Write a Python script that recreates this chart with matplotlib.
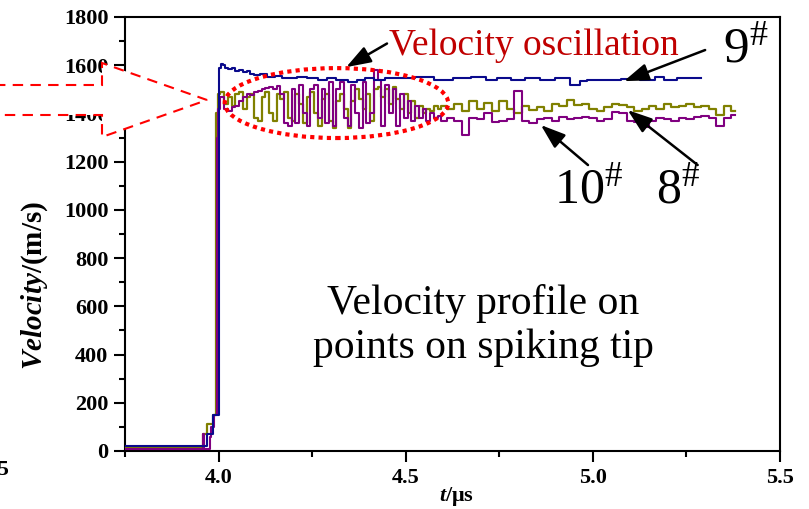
import matplotlib.pyplot as plt
import matplotlib.patches as mpatches
import numpy as np

plt.rcParams['font.family'] = 'Liberation Serif'
plt.rcParams['mathtext.fontset'] = 'custom'
plt.rcParams['mathtext.rm'] = 'Liberation Serif'
plt.rcParams['mathtext.it'] = 'Liberation Serif:italic:bold'

# ---- data ----
# point 9#
t9 = [3.75, 3.968, 3.972, 3.998, 4.003, 4.008, 4.015, 4.02, 4.03, 4.04, 4.05, 4.06,
      4.07, 4.08, 4.09, 4.10, 4.12, 4.14, 4.16, 4.18, 4.20, 4.22, 4.25, 4.28, 4.30,
      4.33, 4.36, 4.38, 4.40, 4.43, 4.46, 4.50, 4.55, 4.60, 4.65, 4.70, 4.73, 4.76,
      4.80, 4.84, 4.88, 4.92, 4.96, 4.97, 5.00, 5.05, 5.10, 5.15, 5.18, 5.20, 5.25, 5.29]
v9 = [22, 22, 70, 150, 1590, 1605, 1600, 1590, 1585, 1590, 1575, 1580,
      1570, 1575, 1565, 1560, 1565, 1552, 1555, 1548, 1545, 1550, 1545, 1540, 1545,
      1538, 1530, 1540, 1545, 1540, 1545, 1545, 1550, 1540, 1545, 1552, 1540, 1545,
      1538, 1545, 1540, 1545, 1520, 1535, 1540, 1538, 1542, 1540, 1550, 1540, 1545, 1545]

# rise parts of 8# and 10#
t8_rise = [3.75, 3.955, 3.96, 3.98, 3.99, 3.997]
v8_rise = [15, 15, 70, 110, 150, 1400]
t10_rise = [3.75, 3.958, 3.96, 3.964, 3.975, 3.977, 3.985, 3.993, 3.998]
v10_rise = [8, 8, 70, 8, 8, 60, 100, 150, 1300]

# oscillation window
t_osc = [4.00, 4.01, 4.02, 4.03, 4.04, 4.05, 4.06, 4.07, 4.08, 4.09,
         4.10, 4.11, 4.12, 4.13, 4.14, 4.15, 4.16, 4.17, 4.18, 4.19,
         4.20, 4.21, 4.22, 4.23, 4.24, 4.25, 4.26, 4.27, 4.28, 4.29,
         4.30, 4.31, 4.32, 4.33, 4.34, 4.35, 4.36, 4.37, 4.38, 4.39,
         4.40, 4.41, 4.42, 4.43, 4.44, 4.45, 4.46, 4.47, 4.48, 4.49,
         4.50, 4.51, 4.52, 4.53, 4.54, 4.55, 4.56, 4.57, 4.58, 4.59, 4.60]
v8_osc = [1480, 1490, 1440, 1470, 1430, 1480, 1490, 1420, 1470, 1480,
          1380, 1370, 1470, 1490, 1400, 1370, 1480, 1460, 1490, 1380,
          1370, 1480, 1440, 1360, 1470, 1490, 1400, 1350, 1460, 1480,
          1370, 1340, 1450, 1480, 1420, 1340, 1450, 1500, 1460, 1420,
          1480, 1370, 1500, 1510, 1470, 1500, 1440, 1510, 1460, 1420,
          1480, 1400, 1450, 1380, 1430, 1400, 1420, 1410, 1430, 1420, 1430]
v10_osc = [1420, 1470, 1420, 1410, 1425, 1430, 1450, 1470, 1480, 1475,
           1490, 1495, 1500, 1505, 1510, 1500, 1515, 1480, 1360, 1350,
           1500, 1360, 1520, 1400, 1350, 1500, 1520, 1380, 1500, 1360,
           1530, 1350, 1500, 1530, 1380, 1350, 1520, 1400, 1340, 1530,
           1360, 1400, 1580, 1540, 1350, 1520, 1400, 1500, 1350, 1480,
           1380, 1450, 1370, 1430, 1380, 1420, 1370, 1400, 1380, 1390, 1370]

# settled part
t_tail = [4.62, 4.64, 4.66, 4.68, 4.70, 4.72, 4.74, 4.76, 4.78, 4.80,
          4.82, 4.84, 4.86, 4.88, 4.90, 4.92, 4.94, 4.96, 4.98, 5.00,
          5.02, 5.04, 5.06, 5.08, 5.10, 5.12, 5.14, 5.16, 5.18, 5.20,
          5.22, 5.24, 5.26, 5.28, 5.30, 5.32, 5.34, 5.36, 5.38]
v8_tail = [1420, 1440, 1410, 1450, 1420, 1445, 1410, 1450, 1420, 1400,
           1430, 1415, 1425, 1410, 1440, 1430, 1455, 1435, 1440, 1420,
           1410, 1425, 1440, 1435, 1425, 1410, 1420, 1430, 1420, 1440,
           1425, 1430, 1440, 1425, 1430, 1420, 1395, 1430, 1410]
v10_tail = [1380, 1370, 1310, 1380, 1375, 1400, 1365, 1370, 1375, 1495,
            1370, 1360, 1375, 1380, 1370, 1385, 1375, 1380, 1385, 1380,
            1370, 1375, 1405, 1400, 1370, 1365, 1345, 1370, 1380, 1375,
            1370, 1380, 1375, 1385, 1390, 1380, 1350, 1380, 1395]

t8 = t8_rise + t_osc + t_tail
v8 = v8_rise + v8_osc + v8_tail
t10 = t10_rise + t_osc + t_tail
v10 = v10_rise + v10_osc + v10_tail

xticks = [4.0, 4.5, 5.0, 5.5]
yticks = [0, 200, 400, 600, 800, 1000, 1200, 1400, 1600, 1800]

W, H = 809, 509
fig = plt.figure(figsize=(W / 100, H / 100), dpi=100)
ax = fig.add_axes([125 / W, 1 - 451 / H, 655 / W, 434 / H])

ax.plot(t8, v8, color='#808000', lw=1.6, drawstyle='steps-mid', zorder=3)
ax.plot(t10, v10, color='#800080', lw=1.5, drawstyle='steps-mid', zorder=3)
ax.plot(t9, v9, color='#0a0a8c', lw=1.5, drawstyle='steps-mid', zorder=3)

ax.set_xlim(3.75, 5.5)
ax.set_ylim(0, 1800)
ax.set_xticks(xticks)
ax.set_xticklabels(['%.1f' % x for x in xticks])
ax.set_xticks([3.75, 4.25, 4.75, 5.25], minor=True)
ax.set_yticks(yticks)
ax.set_yticks(np.arange(100, 1800, 200), minor=True)
ax.tick_params(which='major', direction='out', length=8, width=1.5, labelsize=16, pad=4)
ax.tick_params(which='minor', direction='out', length=4, width=1.5)
for lab in ax.get_xticklabels() + ax.get_yticklabels():
    lab.set_fontweight('bold')
for sp in ax.spines.values():
    sp.set_linewidth(1.5)

fig.text(35 / W, 1 - 285 / H, r'$\mathit{Velocity}$/(m/s)', rotation=90,
         ha='center', va='center', fontsize=21, fontweight='bold')
fig.text(457 / W, 1 - 497 / H, r'$\mathit{t}$/μs', ha='center', va='center',
         fontsize=16, fontweight='bold')
# cut-off tick label from neighbouring panel
fig.text(9 / W, 1 - 470 / H, '3.5', ha='right', va='center', fontsize=16, fontweight='bold')

# red dotted ellipse around the oscillation
ax.add_patch(mpatches.Ellipse((4.315, 1443), 0.597, 290, fill=False, ec='red',
                              lw=3, ls=(0, (1, 1)), zorder=5))

# red dashed block arrow coming from the left
pts = [(-5, 85), (102, 85), (102, 63), (207, 100), (102, 137), (102, 115), (-5, 115)]
pts = [(x / W, 1 - y / H) for x, y in pts]
fig.add_artist(mpatches.Polygon(pts, closed=True, fc='white', ec='red', lw=1.5,
                                ls=(0, (5, 3.5)), transform=fig.transFigure, zorder=2))

arrow = dict(arrowstyle='-|>,head_length=1.0,head_width=0.35', color='black',
             lw=1.8, mutation_scale=15, shrinkA=0, shrinkB=0)

ax.text(4.455, 1680, 'Velocity oscillation', color='#c00000', fontsize=27,
        ha='left', va='center')
ax.annotate('', xy=(4.341, 1592), xytext=(4.45, 1690), arrowprops=arrow)

ax.text(5.348, 1665, r'9$^{\#}$', fontsize=37, ha='left', va='center')
ax.annotate('', xy=(5.083, 1534), xytext=(5.30, 1663), arrowprops=arrow)

ax.text(4.99, 1080, r'10$^{\#}$', fontsize=36, ha='center', va='center')
ax.annotate('', xy=(4.861, 1352), xytext=(4.987, 1186), arrowprops=arrow)

ax.text(5.227, 1080, r'8$^{\#}$', fontsize=36, ha='center', va='center')
ax.annotate('', xy=(5.093, 1414), xytext=(5.28, 1186), arrowprops=arrow)

ax.text(4.707, 520, 'Velocity profile on\npoints on spiking tip', fontsize=30,
        ha='center', va='center', linespacing=1.2)

fig.savefig('out.png', dpi=100)
